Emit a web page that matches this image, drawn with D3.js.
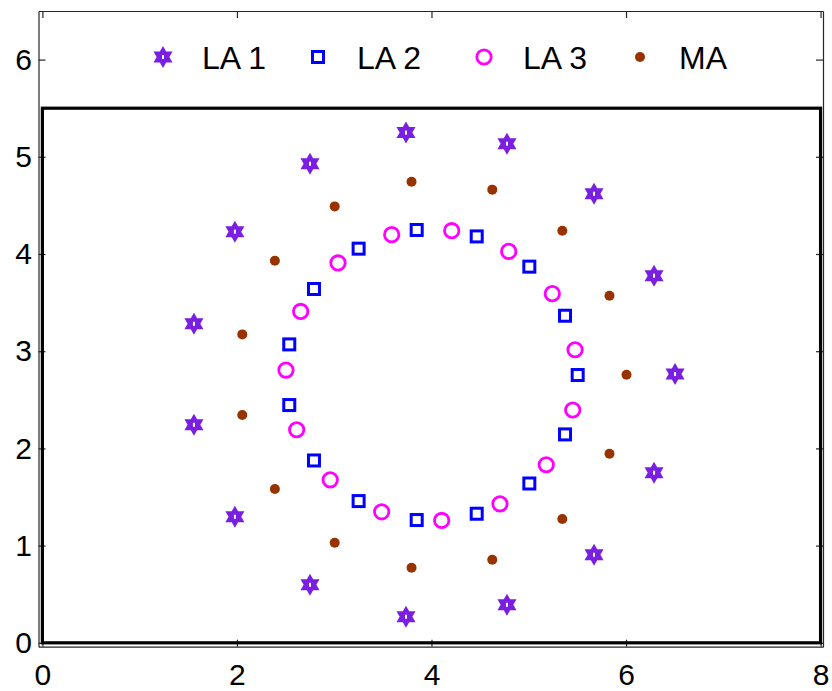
<!DOCTYPE html>
<html>
<head>
<meta charset="utf-8">
<script src="https://cdn.jsdelivr.net/npm/d3@7/dist/d3.min.js"></script>
<style>
  html, body { margin: 0; padding: 0; background: #fff; }
  svg { display: block; }
  text { font-family: "Liberation Sans", Arial, Helvetica, sans-serif; fill: #000; }
</style>
</head>
<body>
<svg id="chart" width="832" height="691"></svg>
<script>
// Series names shown in the legend
const seriesNames = ["LA 1", "LA 2", "LA 3", "MA"];

// Tick values
const xTicks = [0, 2, 4, 6, 8];
const yTicks = [0, 1, 2, 3, 4, 5, 6];

// Inner boundary box (data units)
const boxX = [0, 8];
const boxY = [0, 5.5];

// LA 1 — outer ring (hexagram markers)
const la1X = [3.738, 4.776, 2.751, 5.671, 1.979, 6.288, 1.558, 6.504, 1.558, 6.288, 1.979, 5.671, 2.751, 4.776, 3.738];
const la1Y = [5.249, 5.135, 4.929, 4.620, 4.230, 3.777, 3.282, 2.765, 2.243, 1.750, 1.297, 0.906, 0.597, 0.391, 0.268];

// LA 2 — inner ring (square markers)
const la2X = [3.848, 4.465, 3.251, 5.006, 2.792, 5.373, 2.538, 5.503, 2.538, 5.373, 2.792, 5.006, 3.251, 4.465, 3.848];
const la2Y = [4.247, 4.181, 4.055, 3.870, 3.640, 3.365, 3.070, 2.755, 2.446, 2.144, 1.876, 1.639, 1.458, 1.328, 1.263];

// LA 3 — inner ring (circle markers)
const la3X = [4.208, 3.591, 4.794, 3.039, 5.242, 2.655, 5.476, 2.504, 5.452, 2.614, 5.180, 2.959, 4.704, 3.488, 4.105];
const la3Y = [4.240, 4.199, 4.027, 3.908, 3.592, 3.409, 3.015, 2.806, 2.395, 2.192, 1.832, 1.677, 1.430, 1.348, 1.259];

// MA — middle ring (filled dots)
const maX = [3.795, 4.625, 3.005, 5.345, 2.390, 5.830, 2.055, 6.005, 2.055, 5.830, 2.390, 5.345, 3.005, 4.625, 3.795];
const maY = [4.744, 4.662, 4.490, 4.240, 3.931, 3.571, 3.173, 2.757, 2.343, 1.945, 1.582, 1.273, 1.029, 0.854, 0.772];

const colors = { la1: "#7a1ee2", la2: "#0000ff", la3: "#ff00ff", ma: "#983300" };

const svg = d3.select("#chart");

// Axes frame spans slightly past the 0..8 / 0..6.5 data range
const x = d3.scaleLinear().domain([-0.04, 8.025]).range([38.5, 823]);
const y = d3.scaleLinear().domain([-0.04, 6.5]).range([646.7, 11]);

const frameColor = "#262626";
const tickLen = 7;

// Bottom axis with labels
const gx = svg.append("g").attr("transform", `translate(0,${y.range()[0]})`)
  .call(d3.axisBottom(x).tickValues(xTicks).tickSizeInner(-tickLen).tickSizeOuter(0).tickPadding(17).tickFormat(d3.format("d")));
// Top axis, ticks only
const gxt = svg.append("g").attr("transform", `translate(0,${y.range()[1]})`)
  .call(d3.axisTop(x).tickValues(xTicks).tickSizeInner(-tickLen).tickSizeOuter(0).tickFormat(""));
// Left axis with labels
const gy = svg.append("g").attr("transform", `translate(${x.range()[0]},0)`)
  .call(d3.axisLeft(y).tickValues(yTicks).tickSizeInner(-tickLen).tickSizeOuter(0).tickPadding(6.5).tickFormat(d3.format("d")));
// Right axis, ticks only
const gyr = svg.append("g").attr("transform", `translate(${x.range()[1]},0)`)
  .call(d3.axisRight(y).tickValues(yTicks).tickSizeInner(-tickLen).tickSizeOuter(0).tickFormat(""));

[gx, gxt, gy, gyr].forEach(g => {
  g.select(".domain").attr("stroke", frameColor).attr("stroke-width", 1.2);
  g.selectAll(".tick line").attr("stroke", frameColor).attr("stroke-width", 1.2);
  g.selectAll(".tick text").attr("font-size", 30).attr("fill", "#000")
    .attr("font-family", "'Liberation Sans', Arial, Helvetica, sans-serif");
});

// Thick boundary rectangle
svg.append("rect")
  .attr("x", x(boxX[0])).attr("y", y(boxY[1]))
  .attr("width", x(boxX[1]) - x(boxX[0]))
  .attr("height", y(boxY[0]) - y(boxY[1]))
  .attr("fill", "none").attr("stroke", "#000").attr("stroke-width", 3.2);

// Marker painters
function hexagramPath(r) {
  const pts = [];
  for (let i = 0; i < 12; i++) {
    const a = -Math.PI / 2 + i * Math.PI / 6;
    const rr = i % 2 === 0 ? r : r / Math.sqrt(3);
    pts.push([rr * Math.cos(a), rr * Math.sin(a)]);
  }
  return "M" + pts.map(p => p[0].toFixed(2) + "," + p[1].toFixed(2)).join("L") + "Z";
}
const starD = hexagramPath(11);

function drawStar(g, cx, cy) {
  const s = g.append("g").attr("transform", `translate(${cx},${cy})`);
  s.append("path").attr("d", starD).attr("fill", colors.la1);
  s.append("rect").attr("x", -1).attr("y", -2).attr("width", 2).attr("height", 4).attr("fill", "#fff");
}
function drawSquare(g, cx, cy) {
  g.append("rect").attr("x", cx - 5.5).attr("y", cy - 5.5).attr("width", 11).attr("height", 11)
    .attr("fill", "none").attr("stroke", colors.la2).attr("stroke-width", 3);
}
function drawCircle(g, cx, cy) {
  g.append("circle").attr("cx", cx).attr("cy", cy).attr("r", 7.2)
    .attr("fill", "none").attr("stroke", colors.la3).attr("stroke-width", 2.8);
}
function drawDot(g, cx, cy) {
  g.append("circle").attr("cx", cx).attr("cy", cy).attr("r", 5).attr("fill", colors.ma);
}

const marks = svg.append("g");
const series = [
  { xs: la1X, ys: la1Y, draw: drawStar },
  { xs: la2X, ys: la2Y, draw: drawSquare },
  { xs: la3X, ys: la3Y, draw: drawCircle },
  { xs: maX, ys: maY, draw: drawDot }
];
series.forEach(s => {
  s.xs.forEach((xv, i) => s.draw(marks, x(xv), y(s.ys[i])));
});

// Legend across the top band
const legend = svg.append("g");
const legendMarkerX = [163, 318, 484, 640];
const legendY = 57;
series.forEach((s, i) => {
  s.draw(legend, legendMarkerX[i], legendY);
  legend.append("text")
    .attr("x", legendMarkerX[i] + 39).attr("y", legendY + 12)
    .attr("font-size", 32)
    .text(seriesNames[i]);
});
</script>
</body>
</html>
